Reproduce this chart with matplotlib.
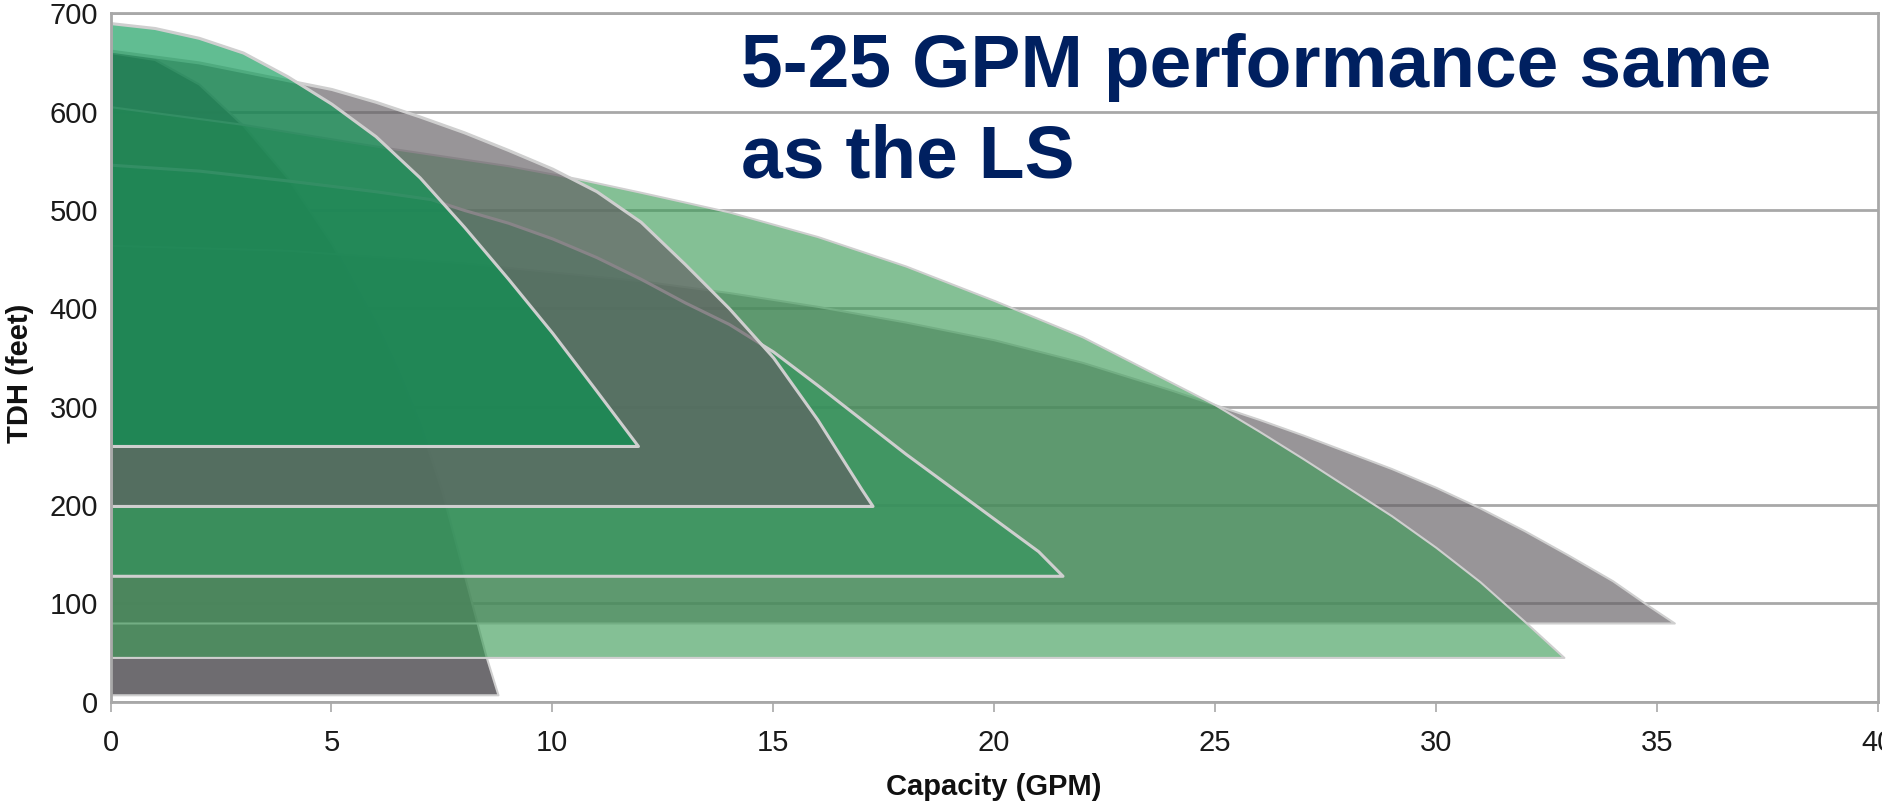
import matplotlib
matplotlib.use('Agg')
import matplotlib.pyplot as plt
from matplotlib import font_manager

# pump curves: flow (GPM) and head (feet), last point is the bottom level
q1 = [0, 1, 2, 3, 4, 5, 6, 6.5, 7, 7.5, 8, 8.5, 8.77]
h1 = [660, 653, 628, 586, 533, 466, 385, 337, 282, 214, 130, 46, 7]

q_big_gray = [0, 4, 8, 12, 14, 16, 18, 20, 22, 24, 25, 26, 27, 28, 29, 30, 31, 32, 33, 34, 34.8, 35.4]
h_big_gray = [464, 459, 446, 428, 416, 402, 386, 368, 345, 317, 302, 287, 271, 254, 237, 218, 197, 174, 149, 123, 98, 80]

q_light = [0, 3, 6, 9, 10.55, 12, 14, 16, 18, 20, 22, 23, 24, 25, 26, 27, 28, 29, 30, 31, 32, 32.9]
h_light = [605, 587, 565, 545, 532, 518, 498, 473, 443, 408, 371, 348, 325, 302, 275, 247, 218, 189, 157, 122, 82, 45]

q_mid = [0, 2, 4, 6, 7.25, 8, 9, 10, 11, 12, 13, 14, 15, 16, 17, 18, 19, 20, 21, 21.55]
h_mid = [546, 540, 530, 519, 511, 500, 487, 471, 452, 430, 406, 384, 356, 322, 287, 252, 219, 186, 153, 128]

q_gray = [0, 2, 4, 5, 6, 7, 8, 9, 10, 11, 12, 13, 14, 15, 16, 17, 17.25]
h_gray = [662, 650, 632, 623, 610, 595, 579, 561, 542, 519, 488, 445, 400, 350, 287, 216, 199]

q_top = [0, 1, 2, 3, 4, 5, 6, 7, 8, 9, 10, 11, 11.94]
h_top = [690, 685, 675, 660, 636, 608, 575, 533, 483, 430, 375, 316, 260]

xticks = [0, 5, 10, 15, 20, 25, 30, 35, 40]
yticks = [0, 100, 200, 300, 400, 500, 600, 700]

names = {f.name for f in font_manager.fontManager.ttflist}
tick_font = 'Liberation Sans Narrow' if 'Liberation Sans Narrow' in names else 'Liberation Sans'

fig = plt.figure(figsize=(18.83, 8.08), dpi=100)
ax = fig.add_axes([0.0587, 0.1316, 0.9384, 0.8520])

# (curve, fill colour, alpha, edge width) in drawing order
layers = [
    (q1, h1, (0.37, 0.36, 0.38), 0.9, 1.5),
    (q_big_gray, h_big_gray, (0.39, 0.37, 0.39), 0.66, 1.5),
    (q_light, h_light, (0.24, 0.61, 0.345), 0.63, 1.5),
    (q_mid, h_mid, (0.18, 0.58, 0.36), 0.6, 2.2),
    (q_gray, h_gray, (0.39, 0.37, 0.39), 0.66, 2.2),
    (q_top, h_top, (0.0, 0.585, 0.31), 0.62, 2.2),
]
for q, h, c, a, lw in layers:
    ax.fill_between(q, h, h[-1], facecolor=c + (a,), edgecolor='#cfcfcf', linewidth=lw, zorder=2)

ax.set_xlim(0, 40)
ax.set_ylim(0, 700)
ax.set_xticks(xticks)
ax.set_yticks(yticks)
ax.set_axisbelow(True)
ax.yaxis.grid(True, color='#a8a8a8', linewidth=2)
for s in ax.spines.values():
    s.set_color('#a8a8a8')
    s.set_linewidth(2)

ax.tick_params(axis='x', length=7, width=1.2, color='#a8a8a8', pad=13, labelsize=21, labelcolor='#1a1a1a')
ax.tick_params(axis='y', length=0, pad=9, labelsize=21, labelcolor='#1a1a1a')
for lab in ax.get_xticklabels() + ax.get_yticklabels():
    lab.set_family(tick_font)
for lab in ax.get_xticklabels():
    lab.set_clip_on(False)

fig.text(994 / 1883, 1 - 787 / 808, 'Capacity (GPM)', ha='center', va='center',
         fontsize=21, fontweight='bold', family='Liberation Sans', color='#111111')
fig.text(20 / 1883, 1 - 373 / 808, 'TDH (feet)', ha='center', va='center', rotation=90,
         fontsize=21, fontweight='bold', family='Liberation Sans', color='#111111')

fig.text(741 / 1883, 1 - 87 / 808, '5-25 GPM performance same', ha='left', va='baseline',
         fontsize=54, fontweight='bold', family='Liberation Sans', color='#002060')
fig.text(741 / 1883, 1 - 177 / 808, 'as the LS', ha='left', va='baseline',
         fontsize=54, fontweight='bold', family='Liberation Sans', color='#002060')

fig.savefig('out.png', dpi=100)
